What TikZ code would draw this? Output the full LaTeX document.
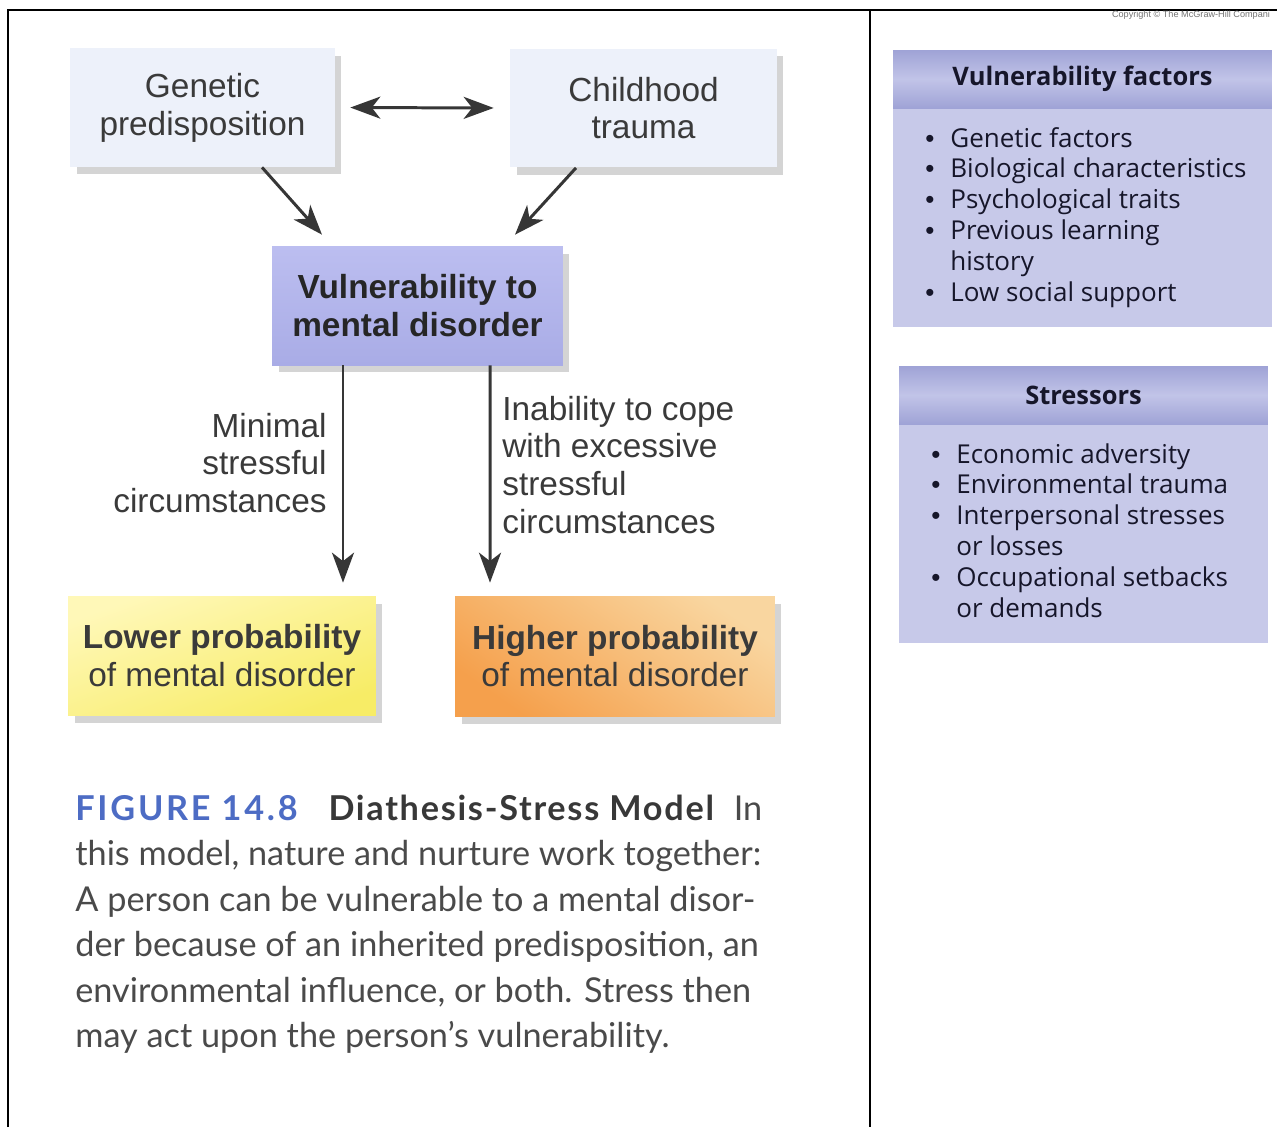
\documentclass[tikz,border=0pt]{standalone}
\usepackage{fontspec}
\setmainfont{Liberation Sans}
\newfontfamily\panelfont{Open Sans}
\newfontfamily\captionfont{Lato}
\usetikzlibrary{arrows.meta,calc,shadows}
\definecolor{diatext}{HTML}{3A3A3A}
\definecolor{arrowgray}{HTML}{363636}
\definecolor{genfill}{HTML}{EDF1FA}
\definecolor{vultop}{HTML}{BCBEF0}
\definecolor{vulbot}{HTML}{A9ACE6}
\definecolor{lowtop}{HTML}{FFF8B8}
\definecolor{lowbot}{HTML}{F7EC66}
\definecolor{hightop}{HTML}{F9D6A0}
\definecolor{highbot}{HTML}{F5A04C}
\definecolor{panelbody}{HTML}{C7C9E9}
\definecolor{panelhead}{HTML}{B2B5E2}
\definecolor{panelheadedge}{HTML}{9FA3D6}
\definecolor{paneltext}{HTML}{16162A}
\definecolor{figblue}{HTML}{4D6CC4}
\definecolor{captext}{HTML}{4A4A4A}
\newcommand{\pbul}{\makebox[0.5cm][l]{\rmfamily\textbullet}}

\begin{document}
\begin{tikzpicture}[x=0.02cm,y=-0.02cm,>={Stealth[length=0.6cm,width=0.44cm,inset=0.17cm]},
	dia/.style={font=\fontsize{19pt}{21.5pt}\selectfont,text=diatext,align=center,inner sep=0pt},
	shadowed/.style={drop shadow={shadow xshift=0.13cm,shadow yshift=-0.15cm,fill=black,opacity=0.17}},
	diabox/.style={dia,shadowed,minimum height=2.38cm},
	arr/.style={draw=arrowgray,line width=1.7pt,->},
	darr/.style={draw=arrowgray,line width=1.7pt,<->},
	panel/.style={fill=panelbody,inner sep=0pt,minimum width=#1,minimum height=5.54cm},
	panelhd/.style={top color=panelheadedge,bottom color=panelheadedge,middle color=panelhead!80!white,inner sep=0pt,minimum width=#1,minimum height=1.16cm,anchor=north,text=paneltext,font=\panelfont\fontsize{14.5pt}{17pt}\selectfont\bfseries},
	paneltxt/.style={inner sep=0pt,anchor=base west,text=paneltext,font=\panelfont\fontsize{14.8pt}{17.6pt}\selectfont}]
	\useasboundingbox (0,0) rectangle (1277,1127);
	\draw[line width=1.5pt] (8,1127) -- (8,10) -- (1277,10);
	\draw[line width=1.5pt] (870,10) -- (870,1127);
	\node[inner sep=0pt,text=black!55,font=\fontsize{5.2pt}{6pt}\selectfont] (copy) at (1191,15) {Copyright \textcopyright\ The McGraw-Hill Compani};

	\node[diabox,fill=genfill,minimum width=5.3cm] (gen) at (202.5,107.5) {Genetic\\predisposition};
	\node[diabox,fill=genfill,minimum width=5.34cm] (chi) at (643.5,108) {Childhood\\trauma};
	\node[diabox,top color=vultop,bottom color=vulbot,minimum width=5.82cm,font=\fontsize{19pt}{21.5pt}\selectfont\bfseries,text=black!85] (vul) at (417.5,305.5) {Vulnerability to\\mental disorder};
	\node[diabox,top color=lowtop,bottom color=lowbot,shading angle=20,minimum width=6.16cm] (low) at (222,655.5) {\textbf{Lower probability}\\of mental disorder};
	\node[diabox,top color=hightop,bottom color=highbot,shading angle=-35,minimum width=6.4cm,minimum height=2.4cm] (high) at (615,656) {\textbf{Higher probability}\\of mental disorder};

	\draw[darr,shorten <=0.3cm,shorten >=0.32cm] (gen.east) -- (chi.west);
	\draw[arr] ($(gen.south)+(59.5,0)$) -- ($(vul.north)+(-95.5,-11)$);
	\draw[arr] ($(chi.south)+(-67.5,0)$) -- ($(vul.north)+(97.5,-11)$);
	\draw[arr] ($(vul.south)+(-74.5,0)$) -- ($(low.north)+(121,-13)$);
	\draw[arr] ($(vul.south)+(72.5,0)$) -- ($(high.north)+(-125,-13)$);

	\node[dia,anchor=base east] (minimal) at (327,437) {\begin{tabular}[t]{@{}r@{}}Minimal\\stressful\\circumstances\end{tabular}};
	\node[dia,anchor=base west] (inability) at (502,420) {\begin{tabular}[t]{@{}l@{}}Inability to cope\\with excessive\\stressful\\circumstances\end{tabular}};

	\node[inner sep=0pt,anchor=base west,text=captext,font=\captionfont\fontsize{19.5pt}{25.9pt}\selectfont] (caption) at (75,820) {\begin{tabular}[t]{@{}l@{}}
		\makebox[13.74cm][s]{{\color{figblue}\bfseries\addfontfeature{LetterSpace=8}FIGURE 14.8}\hspace{0.9em}{\bfseries\addfontfeature{LetterSpace=5}\color{black!78}Diathesis-Stress Model}\hfill In}\\
		this model, nature and nurture work together:\\
		A person can be vulnerable to a mental disor-\\
		der because of an inherited predisposition, an\\
		environmental influence, or both. Stress then\\
		may act upon the person’s vulnerability.
	\end{tabular}};

	\node[panel=7.58cm] (vfbox) at (1082.5,188.5) {};
	\node[panelhd=7.58cm] (vfhead) at (vfbox.north) {Vulnerability factors};
	\node[paneltxt] (vflist) at (925,147) {\begin{tabular}[t]{@{}l@{}l@{}}
		\pbul & Genetic factors\\
		\pbul & Biological characteristics\\
		\pbul & Psychological traits\\
		\pbul & Previous learning\\
		& history\\
		\pbul & Low social support
	\end{tabular}};

	\node[panel=7.38cm] (stbox) at (1083.5,504.5) {};
	\node[panelhd=7.38cm] (sthead) at (stbox.north) {Stressors};
	\node[paneltxt] (stlist) at (931,463) {\begin{tabular}[t]{@{}l@{}l@{}}
		\pbul & Economic adversity\\
		\pbul & Environmental trauma\\
		\pbul & Interpersonal stresses\\
		& or losses\\
		\pbul & Occupational setbacks\\
		& or demands
	\end{tabular}};
\end{tikzpicture}
\end{document}
